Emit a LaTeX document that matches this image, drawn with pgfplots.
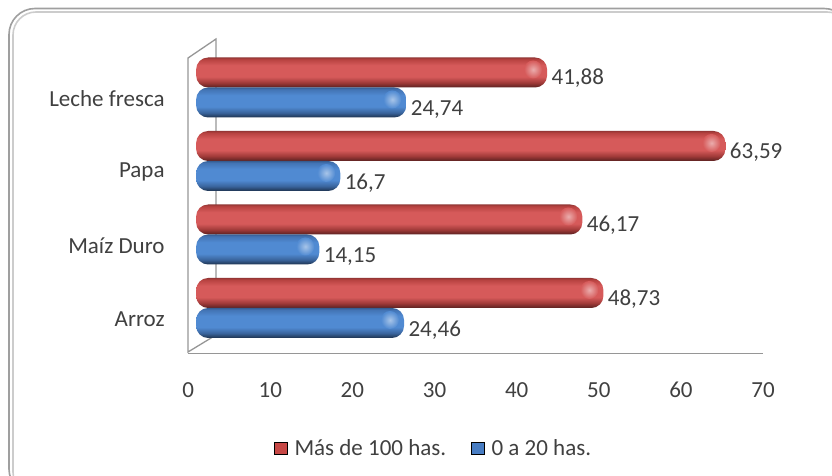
\documentclass[border=0pt]{standalone}
\usepackage{fontspec}
\setmainfont{Carlito}
\usepackage{pgfplots}
\usepackage{pgfplotstable}
\pgfplotsset{compat=1.18}

\definecolor{txt}{RGB}{64,64,64}
\definecolor{wall}{RGB}{150,150,150}
\definecolor{legred}{RGB}{199,72,70}
\definecolor{legblue}{RGB}{72,125,195}
\definecolor{redmid}{RGB}{214,90,90}
\definecolor{bluemid}{RGB}{80,138,210}

% vertical shading of the tube bars, bottom to top (visible part is 25-75bp)
\pgfdeclareverticalshading{redtube}{100bp}{
  color(0bp)=(black!55!legred); color(25bp)=(black!55!legred);
  color(33bp)=(black!20!legred); color(43bp)=(redmid);
  color(62bp)=(redmid); color(72bp)=(black!8!legred); color(75bp)=(black!25!legred);
  color(100bp)=(black!25!legred)}
\pgfdeclareverticalshading{bluetube}{100bp}{
  color(0bp)=(black!60!legblue); color(25bp)=(black!60!legblue);
  color(33bp)=(black!20!legblue); color(43bp)=(bluemid);
  color(62bp)=(bluemid); color(72bp)=(black!8!legblue); color(75bp)=(black!25!legblue);
  color(100bp)=(black!25!legblue)}

\pgfplotstableread{
pos val
0 48.73
1 46.17
2 63.59
3 41.88
}\masde
\pgfplotstableread{
pos val
0 24.46
1 14.15
2 16.7
3 24.74
}\cero

\begin{document}
\begin{tikzpicture}[x=1pt,y=1pt]
\useasboundingbox (0,0) rectangle (832,475);
% frame
\draw[gray!75,line width=1.6pt,rounded corners=26pt] (9,-20) rectangle (850,466.5);
\draw[gray!40,line width=1.6pt,rounded corners=23pt] (13,-20) rectangle (850,463);
% side wall and floor
\draw[wall,line width=1.3pt] (188,123) -- (188,417) -- (216,436) -- (216,140) -- cycle;
\begin{axis}[
    at={(229,165)},anchor=south west,
    scale only axis,width=575pt,height=294pt,
    xmin=0,xmax=70,ymin=-0.5,ymax=3.5,
    xtick={0,10,...,70},
    ytick={0,1,2,3},
    yticklabels={Arroz,Maíz Duro,Papa,Leche fresca},
    axis x line=bottom,axis y line=left,
    x axis line style={wall,line width=1.3pt,-},
    y axis line style={draw=none},
    major tick length=0pt,
    tick label style={font=\fontsize{23}{23}\selectfont,text=txt},
    /pgf/number format/assume math mode=true,
    x tick label style={yshift=-25pt},
    y tick label style={xshift=-20pt,yshift=-2pt},
    clip=false,
    bar width=30pt,
    tube/.style={xbar,draw=none,rounded corners=12pt,xshift=8pt,yshift=9pt,
      forget plot,restrict y to domain=#1:#1,
      point meta=explicit,
      nodes near coords,
      nodes near coords style={font=\fontsize{23}{23}\selectfont,text=txt,
        /pgf/number format/use comma,/pgf/number format/precision=2,
        /pgf/number format/assume math mode=true,
        anchor=west,xshift=1pt}},
    spot/.style={only marks,forget plot,mark=none,xshift=8pt,
      nodes near coords={},
      nodes near coords style={anchor=center,circle,inner sep=0pt,minimum size=18pt,
        shade,inner color=#1!50!white,outer color=#1}},
    legend style={at={(0.427,-0.323)},anchor=center,draw=none,fill=none,
      legend columns=2,font=\fontsize{23}{23}\selectfont,text=txt,
      /tikz/every odd column/.append style={column sep=5pt},
      /tikz/every even column/.append style={column sep=23pt}},
    legend image code/.code={
      \fill[#1] (0pt,-6pt) rectangle (13pt,6pt);},
]
\addlegendimage{fill=legred}
\addlegendimage{fill=legblue}
% one plot per bar, so that the shading fits each bar by itself
\pgfplotsinvokeforeach{0,1,2,3}{
  \addplot[tube=#1,bar shift=15pt,shading=redtube,
      nodes near coords style={yshift=9pt}]
    table[y=pos,x expr=\thisrow{val}+0.85,meta=val] {\masde};
  \addplot[tube=#1,bar shift=-15pt,shading=bluetube,
      nodes near coords style={yshift=-22pt}]
    table[y=pos,x expr=\thisrow{val}+0.85,meta=val] {\cero};
}
\addplot[spot=redmid,yshift=27pt] table[y=pos,x expr=\thisrow{val}-0.85] {\masde};
\addplot[spot=bluemid,yshift=-3pt] table[y=pos,x expr=\thisrow{val}-0.85] {\cero};
\legend{Más de 100 has.,0 a 20 has.}
\end{axis}
\end{tikzpicture}
\end{document}
